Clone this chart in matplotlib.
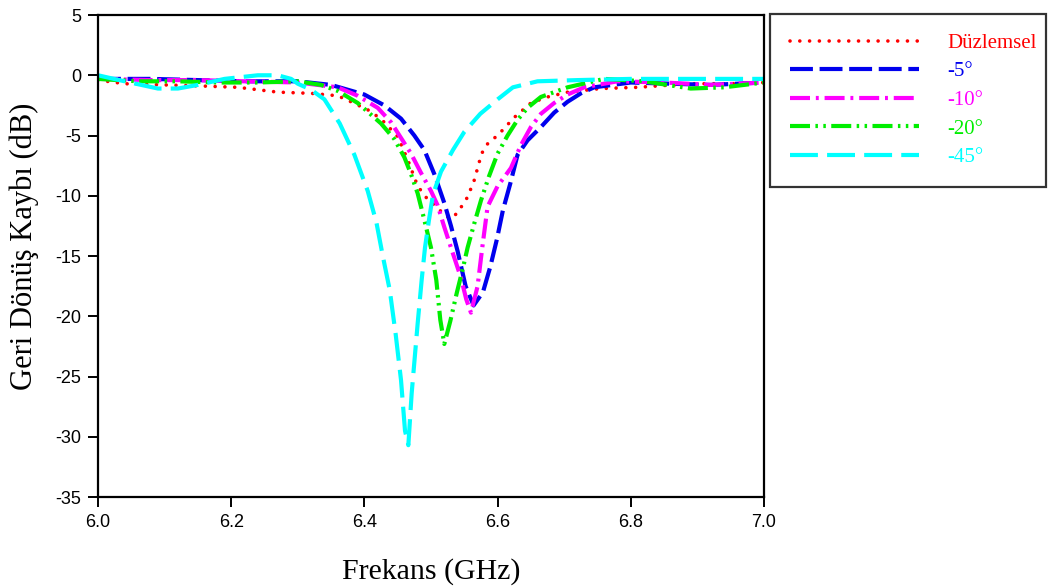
import matplotlib
matplotlib.use("Agg")
import matplotlib.pyplot as plt

plt.rcParams["axes.unicode_minus"] = False

# frequency (GHz) and return loss (dB)
f_duz = [6.00, 6.04, 6.10, 6.16, 6.21, 6.27, 6.32, 6.36, 6.38, 6.41, 6.43, 6.45, 6.465,
         6.48, 6.495, 6.51, 6.52, 6.53, 6.54, 6.555, 6.565, 6.576, 6.586, 6.60, 6.625,
         6.65, 6.675, 6.705, 6.755, 6.81, 6.89, 6.95, 7.00]
s_duz = [-0.4, -0.7, -0.8, -0.9, -1.0, -1.4, -1.5, -1.7, -2.2, -3.0, -3.9, -5.1, -7.0,
         -9.2, -10.3, -11.0, -11.6, -11.9, -11.4, -10.1, -8.7, -6.5, -5.6, -5.0, -3.5,
         -2.3, -1.8, -1.4, -1.1, -1.0, -0.7, -0.7, -0.6]

f_5 = [6.00, 6.08, 6.15, 6.22, 6.30, 6.35, 6.40, 6.43, 6.455, 6.475, 6.49, 6.505, 6.52,
       6.53, 6.54, 6.552, 6.564, 6.578, 6.589, 6.599, 6.608, 6.619, 6.63, 6.645, 6.665,
       6.685, 6.705, 6.725, 6.745, 6.80, 6.86, 6.92, 7.00]
s_5 = [-0.3, -0.3, -0.4, -0.5, -0.5, -0.8, -1.6, -2.5, -3.6, -5.0, -6.2, -8.2, -10.6,
       -12.5, -14.6, -17.5, -19.1, -18.0, -15.9, -13.6, -11.2, -9.0, -6.6, -5.4, -4.3,
       -3.1, -2.2, -1.5, -1.0, -0.6, -0.7, -0.8, -0.6]

f_10 = [6.00, 6.08, 6.15, 6.22, 6.30, 6.36, 6.39, 6.42, 6.44, 6.455, 6.47, 6.485, 6.50,
        6.51, 6.52, 6.53, 6.545, 6.553, 6.56, 6.57, 6.577, 6.585, 6.60, 6.62, 6.635,
        6.65, 6.665, 6.685, 6.705, 6.73, 6.78, 6.85, 6.92, 7.00]
s_10 = [-0.3, -0.4, -0.4, -0.5, -0.6, -1.0, -1.7, -2.7, -3.9, -5.2, -6.5, -8.1, -9.6,
        -10.8, -12.6, -14.3, -16.8, -18.6, -19.7, -17.5, -14.3, -10.9, -9.2, -7.7, -5.8,
        -4.3, -3.2, -2.3, -1.6, -1.0, -0.5, -0.6, -0.8, -0.6]

f_20 = [6.00, 6.06, 6.12, 6.18, 6.24, 6.30, 6.335, 6.36, 6.39, 6.425, 6.445, 6.46, 6.47,
        6.48, 6.49, 6.50, 6.508, 6.514, 6.52, 6.529, 6.539, 6.548, 6.555, 6.565, 6.575,
        6.587, 6.60, 6.615, 6.63, 6.645, 6.665, 6.705, 6.76, 6.82, 6.89, 6.94, 7.00]
s_20 = [-0.3, -0.5, -0.5, -0.6, -0.6, -0.5, -0.8, -1.3, -2.3, -4.0, -5.3, -6.8, -8.2,
        -9.8, -12.0, -14.3, -17.0, -20.3, -22.3, -20.4, -18.0, -16.0, -14.3, -12.3, -10.4,
        -8.4, -6.5, -5.0, -3.7, -2.7, -1.8, -1.0, -0.3, -0.5, -1.1, -1.0, -0.6]

f_45 = [6.00, 6.04, 6.09, 6.12, 6.15, 6.19, 6.24, 6.27, 6.29, 6.30, 6.32, 6.34, 6.363,
        6.385, 6.405, 6.418, 6.428, 6.438, 6.447, 6.455, 6.461, 6.466, 6.471, 6.48, 6.486,
        6.491, 6.497, 6.503, 6.515, 6.533, 6.55, 6.574, 6.60, 6.623, 6.66, 6.72, 6.80,
        6.90, 7.00]
s_45 = [0.0, -0.5, -1.1, -1.1, -0.8, -0.3, 0.0, 0.0, -0.3, -0.7, -1.2, -2.0, -4.0,
        -6.6, -9.6, -12.2, -15.1, -17.8, -21.5, -25.3, -29.5, -30.7, -26.4, -20.6, -17.0,
        -14.3, -12.0, -9.9, -8.0, -6.2, -4.7, -3.2, -2.0, -1.0, -0.5, -0.4, -0.3,
        -0.3, -0.3]

labels = ["Düzlemsel", "-5°", "-10°", "-20°", "-45°"]

fig = plt.figure(figsize=(10.49, 5.87), dpi=100)
ax = fig.add_axes([0.0934, 0.1533, 0.6349, 0.8211])

lw = 3.0
ax.plot(f_duz, s_duz, color="#ff0000", lw=2.6, linestyle=(0, (0.01, 2.7)),
        dash_capstyle="round", label=labels[0])
ax.plot(f_5, s_5, color="#0000ee", lw=lw, linestyle=(0, (5.5, 1.6)), label=labels[1])
ax.plot(f_10, s_10, color="#ff00ff", lw=lw, linestyle=(0, (4.8, 1.4, 0.7, 1.4)),
        label=labels[2])
ax.plot(f_20, s_20, color="#00ee00", lw=lw,
        linestyle=(0, (4.8, 1.3, 0.6, 1.3, 0.6, 1.3)), label=labels[3])
ax.plot(f_45, s_45, color="#00ffff", lw=lw, linestyle=(0, (6.7, 2.2)), label=labels[4])

ax.set_xlim(6.0, 7.0)
ax.set_ylim(-35, 5)
ax.set_xticks([6.0, 6.2, 6.4, 6.6, 6.8, 7.0])
ax.set_xticklabels(["6.0", "6.2", "6.4", "6.6", "6.8", "7.0"])
ax.set_yticks(range(-35, 6, 5))
ax.tick_params(direction="out", length=7, width=1.4, labelsize=13, pad=5)
for lab in ax.get_xticklabels() + ax.get_yticklabels():
    lab.set_fontfamily("Liberation Sans")
for sp in ax.spines.values():
    sp.set_linewidth(1.6)

ax.set_xlabel("Frekans (GHz)", fontfamily="Liberation Serif", fontsize=21.5, labelpad=20)
ax.set_ylabel("Geri Dönüş Kaybı (dB)", fontfamily="Liberation Serif", fontsize=22)
ax.yaxis.set_label_coords(-0.088, 0.52)

leg = fig.legend(loc="upper left", bbox_to_anchor=(0.734, 0.690, 0.263, 0.287),
                 mode="expand", borderaxespad=0, handlelength=6.2, handletextpad=1.35,
                 labelspacing=0.43, borderpad=0.95, fancybox=False,
                 labelcolor="linecolor",
                 prop={"family": "Liberation Serif", "size": 15})
leg.get_frame().set_edgecolor("black")
leg.get_frame().set_linewidth(1.6)

fig.savefig("out.png", dpi=100)
